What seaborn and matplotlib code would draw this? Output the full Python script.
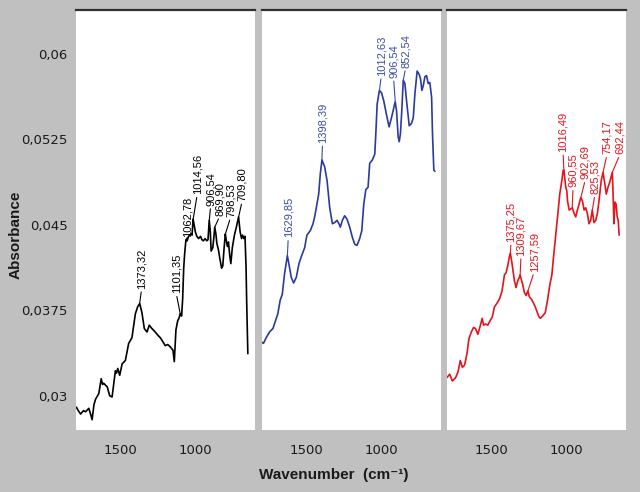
import numpy as np
import pandas as pd
import matplotlib
matplotlib.use('Agg')
import matplotlib.pyplot as plt
from matplotlib.ticker import MultipleLocator, FuncFormatter
import seaborn as sns

# espectro 1 (preto)
onda_1 = [1797, 1785, 1769, 1750, 1736, 1714, 1700, 1692, 1680, 1669, 1647, 1631, 1622, 1614,
          1600, 1591, 1574, 1558, 1536, 1528, 1520, 1507, 1491, 1469, 1447, 1425, 1402, 1387,
          1373, 1358, 1342, 1324, 1309, 1291, 1269, 1250, 1235, 1220, 1202, 1185, 1168, 1150,
          1141, 1130, 1118, 1110, 1101, 1092, 1085, 1078, 1072, 1063, 1055, 1045, 1030, 1022,
          1015, 1008, 1000, 990, 978, 965, 956, 946, 935, 923, 915, 907, 900, 894, 883, 875,
          870, 862, 856, 845, 835, 824, 816, 807, 799, 792, 785, 778, 770, 762, 752, 738, 725,
          710, 700, 690, 683, 675, 667, 660, 656, 652, 648]
abs_1 = [0.0290, 0.0287, 0.0284, 0.0287, 0.0286, 0.0289, 0.0283, 0.0279, 0.0292, 0.0297, 0.0302,
         0.0315, 0.0310, 0.0311, 0.0309, 0.0308, 0.0300, 0.0299, 0.0322, 0.0320, 0.0324, 0.0318,
         0.0328, 0.0331, 0.0346, 0.0351, 0.0372, 0.0378, 0.0381, 0.0373, 0.0359, 0.0356, 0.0362,
         0.0359, 0.0356, 0.0353, 0.0351, 0.0348, 0.0344, 0.0345, 0.0343, 0.0340, 0.0330, 0.0358,
         0.0366, 0.0368, 0.0372, 0.0370, 0.0385, 0.0412, 0.0424, 0.0437, 0.0436, 0.0440, 0.0442,
         0.0441, 0.0455, 0.0450, 0.0444, 0.0440, 0.0438, 0.0440, 0.0437, 0.0436, 0.0438, 0.0436,
         0.0437, 0.0454, 0.0445, 0.0427, 0.0430, 0.0440, 0.0448, 0.0442, 0.0434, 0.0428, 0.0420,
         0.0412, 0.0414, 0.0430, 0.0442, 0.0436, 0.0431, 0.0435, 0.0424, 0.0416, 0.0430, 0.0441,
         0.0448, 0.0457, 0.0444, 0.0438, 0.0441, 0.0438, 0.0440, 0.0413, 0.0384, 0.0360, 0.0337]
picos_1 = [1373.32, 1101.35, 1062.78, 1014.56, 906.54, 869.90, 798.53, 709.80]

# espectro 2 (azul)
onda_2 = [1800, 1790, 1772, 1750, 1727, 1709, 1694, 1678, 1664, 1649, 1630, 1620, 1604, 1588,
          1570, 1552, 1537, 1514, 1499, 1476, 1458, 1447, 1436, 1420, 1409, 1398, 1380, 1364,
          1346, 1328, 1313, 1297, 1284, 1275, 1261, 1246, 1230, 1212, 1194, 1178, 1163, 1145,
          1131, 1118, 1104, 1089, 1078, 1060, 1044, 1037, 1028, 1013, 999, 984, 966, 948, 932,
          916, 907, 898, 887, 880, 872, 863, 853, 842, 831, 813, 798, 786, 775, 760, 746, 737,
          728, 719, 708, 697, 686, 675, 663, 657, 648, 641]
abs_2 = [0.0347, 0.0346, 0.0351, 0.0356, 0.0359, 0.0366, 0.0372, 0.0384, 0.0389, 0.0407, 0.0423,
         0.0416, 0.0404, 0.0399, 0.0404, 0.0416, 0.0422, 0.0430, 0.0441, 0.0445, 0.0451, 0.0457,
         0.0465, 0.0477, 0.0495, 0.0507, 0.0501, 0.0489, 0.0465, 0.0451, 0.0452, 0.0454, 0.0451,
         0.0448, 0.0454, 0.0458, 0.0455, 0.0448, 0.0439, 0.0433, 0.0432, 0.0438, 0.0445, 0.0468,
         0.0481, 0.0483, 0.0504, 0.0507, 0.0512, 0.0530, 0.0556, 0.0568, 0.0566, 0.0559, 0.0547,
         0.0536, 0.0544, 0.0553, 0.0558, 0.0550, 0.0527, 0.0523, 0.0530, 0.0550, 0.0577, 0.0574,
         0.0559, 0.0537, 0.0539, 0.0544, 0.0565, 0.0585, 0.0582, 0.0578, 0.0568, 0.0572, 0.0580,
         0.0581, 0.0574, 0.0575, 0.0562, 0.0530, 0.0498, 0.0497]
picos_2 = [1629.85, 1398.39, 1012.63, 906.54, 852.54]

# espectro 3 (vermelho)
onda_3 = [1800, 1782, 1764, 1742, 1726, 1711, 1697, 1682, 1666, 1653, 1637, 1622, 1609, 1593,
          1582, 1564, 1555, 1542, 1526, 1511, 1497, 1482, 1466, 1448, 1431, 1415, 1404, 1393,
          1382, 1375, 1364, 1348, 1337, 1326, 1315, 1310, 1293, 1282, 1270, 1258, 1248, 1230,
          1208, 1186, 1175, 1159, 1141, 1126, 1110, 1097, 1088, 1075, 1059, 1044, 1030, 1021,
          1016, 1004, 997, 992, 981, 970, 960, 948, 937, 926, 915, 903, 892, 881, 870, 859, 848,
          837, 826, 815, 803, 792, 781, 766, 754, 743, 732, 721, 710, 692, 688, 681, 674, 666,
          659, 652, 646]
abs_3 = [0.0316, 0.0319, 0.0313, 0.0316, 0.0321, 0.0331, 0.0325, 0.0327, 0.0337, 0.0350, 0.0356,
         0.0360, 0.0359, 0.0354, 0.0359, 0.0368, 0.0362, 0.0363, 0.0362, 0.0366, 0.0369, 0.0378,
         0.0381, 0.0385, 0.0392, 0.0406, 0.0408, 0.0414, 0.0422, 0.0425, 0.0416, 0.0401, 0.0395,
         0.0401, 0.0404, 0.0406, 0.0398, 0.0391, 0.0388, 0.0392, 0.0387, 0.0384, 0.0378, 0.0370,
         0.0368, 0.0370, 0.0373, 0.0384, 0.0398, 0.0406, 0.0419, 0.0436, 0.0457, 0.0477, 0.0489,
         0.0498, 0.0498, 0.0483, 0.0480, 0.0471, 0.0463, 0.0464, 0.0465, 0.0460, 0.0457, 0.0463,
         0.0468, 0.0474, 0.0471, 0.0463, 0.0465, 0.0460, 0.0451, 0.0454, 0.0463, 0.0452, 0.0454,
         0.0460, 0.0471, 0.0489, 0.0496, 0.0487, 0.0477, 0.0483, 0.0487, 0.0496, 0.0483, 0.0451,
         0.0470, 0.0468, 0.0457, 0.0454, 0.0441]
picos_3 = [1375.25, 1309.67, 1257.59, 1016.49, 960.55, 902.69, 825.53, 754.17, 692.44]

# onde fica o pe de cada rotulo (x, y em unidades dos dados)
pos_rot_1 = [(1360, 0.0394), (1128, 0.0390), (1054, 0.0439), (987, 0.0477),
             (897, 0.0467), (835, 0.0458), (763, 0.0457), (686, 0.0471)]
pos_rot_2 = [(1624, 0.0439), (1394, 0.0522), (1000, 0.0581), (918, 0.0579), (837, 0.0588)]
pos_rot_3 = [(1371, 0.0435), (1304, 0.0423), (1215, 0.0409), (1022, 0.0514), (955, 0.0483),
             (872, 0.0490), (808, 0.0477), (727, 0.0512), (640, 0.0512)]

sns.set_theme(style='white')
plt.rcParams['font.family'] = ['DejaVu Sans']

cinza = '#c0c0c0'
fig = plt.figure(figsize=(6.4, 4.92), dpi=100, facecolor=cinza)

paineis = [
    (onda_1, abs_1, picos_1, pos_rot_1, '#000000', '#000000', 76),
    (onda_2, abs_2, picos_2, pos_rot_2, '#2b3a9c', '#3c4ca6', 262),
    (onda_3, abs_3, picos_3, pos_rot_3, '#e3141b', '#e3141b', 447),
]

for i, (onda, absb, picos, pos_rot, cor, cor_txt, esq) in enumerate(paineis):
    ax = fig.add_axes([esq / 640, 62 / 492, 179 / 640, 420.5 / 492])
    df = pd.DataFrame({'onda': onda, 'abs': absb})
    sns.lineplot(data=df, x='onda', y='abs', ax=ax, color=cor, lw=1.2,
                 estimator=None, sort=False)
    ax.set_xlim(1800, 600)
    ax.set_ylim(0.0270, 0.0639)
    ax.set_xlabel('')
    ax.set_ylabel('')
    ax.set_facecolor('white')

    for s in ['left', 'right', 'bottom']:
        ax.spines[s].set_visible(False)
    ax.spines['top'].set_color('#303030')
    ax.spines['top'].set_linewidth(1.6)

    ax.xaxis.set_major_locator(MultipleLocator(500))
    ax.xaxis.set_minor_locator(MultipleLocator(100))
    ax.yaxis.set_major_locator(MultipleLocator(0.0075))
    ax.yaxis.set_minor_locator(MultipleLocator(0.0015))
    ax.tick_params(axis='both', which='both', direction='out', color='#202020', width=1,
                   labelsize=9.5, labelcolor='#1a1a1a')
    ax.tick_params(axis='x', which='major', length=7, pad=3)
    ax.tick_params(axis='x', which='minor', length=4)
    ax.tick_params(axis='y', which='major', length=4, pad=2)
    ax.tick_params(axis='y', which='minor', length=2.5)
    ax.xaxis.set_major_formatter(FuncFormatter(lambda v, p: f'{v:g}'))
    if i == 0:
        ax.yaxis.set_major_formatter(FuncFormatter(lambda v, p: f'{v:g}'.replace('.', ',')))
    else:
        ax.set_yticklabels([])

    onda_arr = np.array(onda)
    abs_arr = np.array(absb)
    for pico, (xt, yt) in zip(picos, pos_rot):
        k = np.argmin(np.abs(onda_arr - pico))
        ax.annotate(f'{pico:.2f}'.replace('.', ','), xy=(pico, abs_arr[k]),
                    xytext=(xt, yt), textcoords='data', rotation=90,
                    ha='center', va='bottom', fontsize=8, color=cor_txt,
                    family=['Liberation Sans', 'DejaVu Sans'],
                    arrowprops=dict(arrowstyle='-', color=cor_txt, lw=0.8,
                                    shrinkA=0, shrinkB=0, relpos=(0.5, 0)))

fig.text(16 / 640, 1 - 235 / 492, 'Absorbance', rotation=90, ha='center', va='center',
         fontsize=11, fontweight='bold', color='#1a1a1a',
         family=['Liberation Sans', 'DejaVu Sans'])
fig.text(334 / 640, 1 - 475 / 492, 'Wavenumber  (cm⁻¹)', ha='center', va='center',
         fontsize=11, fontweight='bold', color='#1a1a1a',
         family=['Liberation Sans', 'DejaVu Sans'])

fig.savefig('out.png', dpi=100, facecolor=cinza)
